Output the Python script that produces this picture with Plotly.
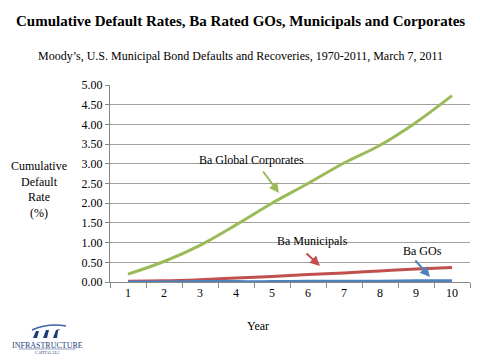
import plotly.graph_objects as go

years = ["1", "2", "3", "4", "5", "6", "7", "8", "9", "10"]
ba_corporates = [0.20, 0.52, 0.93, 1.45, 2.00, 2.50, 3.02, 3.47, 4.05, 4.73]
ba_municipals = [0.02, 0.03, 0.06, 0.10, 0.14, 0.19, 0.23, 0.28, 0.33, 0.37]
ba_gos = [0.00, 0.00, 0.01, 0.01, 0.01, 0.02, 0.02, 0.02, 0.03, 0.03]
y_ticks = [0, 0.5, 1, 1.5, 2, 2.5, 3, 3.5, 4, 4.5, 5]

W, H = 480, 360
L, R, T, B = 110, 10, 85, 78
PW, PH = W - L - R, H - T - B

def px(x):
    return (x - L) / PW

def py(y):
    return (H - B - y) / PH

GREEN, RED, BLUE = "#9BBB59", "#C0504D", "#4F81BD"
FONT = "Liberation Serif, Times New Roman, Times, serif"

fig = go.Figure()
fig.add_trace(go.Scatter(x=years, y=ba_corporates, mode="lines", line=dict(color=GREEN, width=3, shape="spline"), showlegend=False))
fig.add_trace(go.Scatter(x=years, y=ba_municipals, mode="lines", line=dict(color=RED, width=3, shape="spline"), showlegend=False))
fig.add_trace(go.Scatter(x=years, y=ba_gos, mode="lines", line=dict(color=BLUE, width=3, shape="spline"), showlegend=False))

ann = []
def text(x, y, t, size=12, color="black", **kw):
    ann.append(dict(x=px(x), y=py(y), xref="paper", yref="paper", text=t, showarrow=False,
                    font=dict(family=FONT, size=size, color=color), xanchor="center", yanchor="middle", **kw))

def arrow(x0, y0, x1, y1, color):
    ann.append(dict(x=px(x1), y=py(y1), xref="paper", yref="paper", ax=x0 - x1, ay=y0 - y1,
                    axref="pixel", ayref="pixel", text="", showarrow=True, arrowhead=2, arrowsize=1,
                    arrowwidth=2, arrowcolor=color))

text(240, 21, "<b>Cumulative Default Rates, Ba Rated GOs, Municipals and Corporates</b>", size=15)
text(240, 56, "Moody’s, U.S. Municipal Bond Defaults and Recoveries, 1970-2011, March 7, 2011", size=12)
text(39, 189, "Cumulative<br>Default<br>Rate<br>(%)", size=12)
text(258, 326, "Year", size=12)
text(251, 160, "Ba Global Corporates", size=12)
arrow(262, 170, 279, 193, GREEN)
text(312, 241, "Ba Municipals", size=12)
arrow(305, 252, 320, 266, RED)
text(422, 251, "Ba GOs", size=12)
arrow(414, 259, 430, 277, BLUE)
text(47, 345, "INFRASTRUCTURE", size=8, color="#23407A")
text(47, 352, "CAPITAL LLC", size=4, color="#23407A")

shapes = []
NAVY = "#1F3C78"
def path(pts, fill=True, color=NAVY, width=0):
    d = "M " + " L ".join(f"{px(a):.4f},{py(b):.4f}" for a, b in pts) + (" Z" if fill else "")
    shapes.append(dict(type="path", path=d, xref="paper", yref="paper",
                       fillcolor=color if fill else None, line=dict(color=color, width=width)))

# logo marks
path([(33, 338), (36, 331), (39, 331), (37, 338)])
path([(43, 338), (46, 330), (49, 330), (47, 338)])
path([(53, 338), (56, 330), (60, 329), (58, 331), (57, 338)])
shapes.append(dict(type="path", xref="paper", yref="paper",
                   path=f"M {px(32):.4f},{py(330):.4f} Q {px(48):.4f},{py(323):.4f} {px(66):.4f},{py(326):.4f}",
                   line=dict(color="#3E63A8", width=1.5)))
path([(19, 349), (76, 349)], fill=False, color="#23407A", width=0.5)

fig.update_layout(
    width=W, height=H, margin=dict(l=L, r=R, t=T, b=B),
    paper_bgcolor="white", plot_bgcolor="white",
    font=dict(family=FONT, size=12, color="black"),
    annotations=ann, shapes=shapes,
    xaxis=dict(type="category", range=[-0.5, 9.5], tickson="boundaries", ticks="outside", ticklen=5,
               tickcolor="#888888", showline=True, linecolor="#888888", linewidth=1, showgrid=False,
               tickfont=dict(family=FONT, size=12), fixedrange=True),
    yaxis=dict(range=[0, 5], tickvals=y_ticks, tickformat=".2f", ticks="outside", ticklen=4,
               tickcolor="#888888", showline=True, linecolor="#888888", linewidth=1,
               showgrid=True, gridcolor="#a0a0a0", gridwidth=1, zeroline=False,
               tickfont=dict(family=FONT, size=12), fixedrange=True),
)

fig.write_html("out.html", config={"displayModeBar": False},
               post_script="document.body.style.margin='0';document.body.style.overflow='hidden';")
